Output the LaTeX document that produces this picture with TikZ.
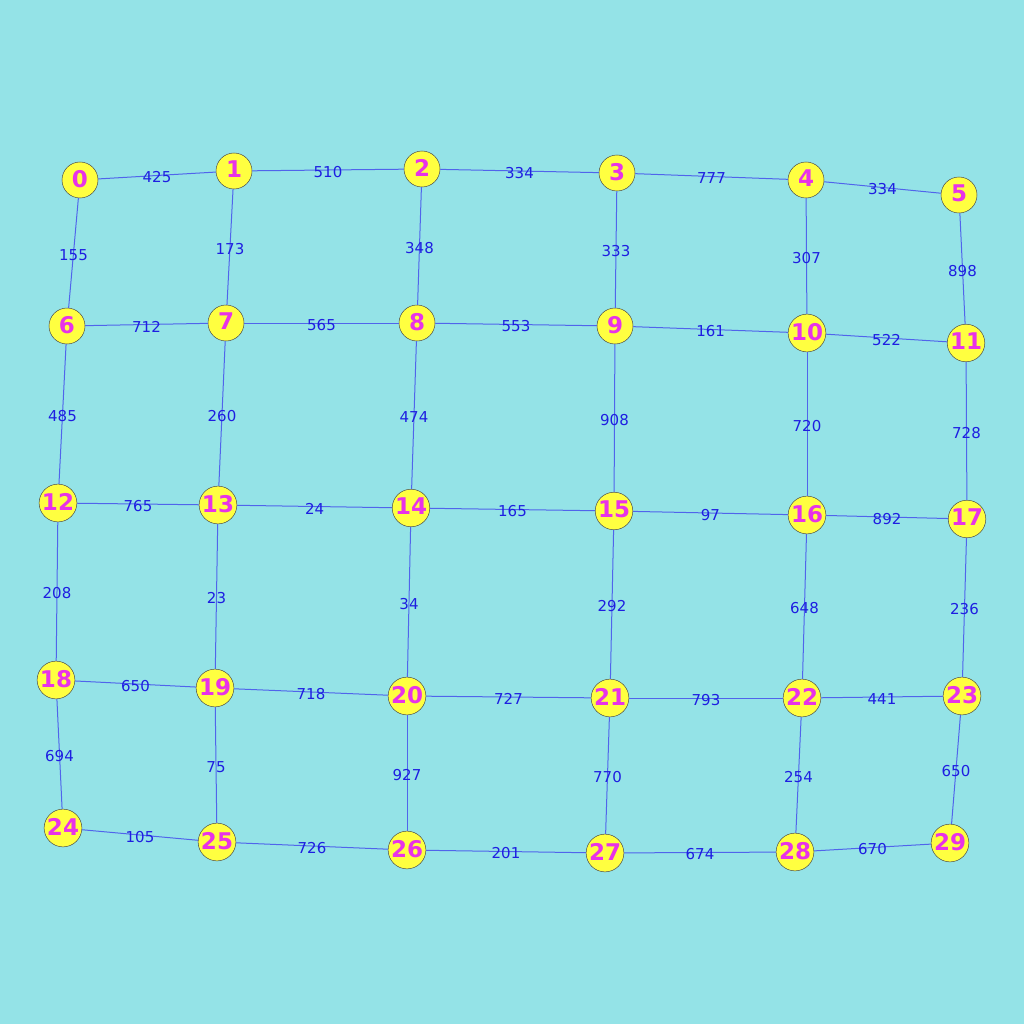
\documentclass[tikz,border=0pt]{standalone}
\usepackage{fontspec}
\setmainfont{DejaVu Sans}
\usepackage{xcolor}
\definecolor{bgcyan}{RGB}{148, 227, 231}
\definecolor{nodeyellow}{RGB}{255, 255, 64}
\definecolor{numpink}{RGB}{232, 50, 232}
\definecolor{edgeblue}{RGB}{80, 100, 235}
\definecolor{wblue}{RGB}{30, 30, 225}

\tikzset{
    vertex/.style={circle, draw=black!70, line width=0.5pt, fill=nodeyellow,
        minimum size=36pt, inner sep=0pt, text=numpink,
        font=\fontsize{23}{23}\selectfont\bfseries},
    link/.style={edgeblue, line width=1pt},
    weight/.style={text=wblue, font=\fontsize{15}{15}\selectfont, inner sep=1pt, yshift=-2pt}
}

\begin{document}
\begin{tikzpicture}[x=1pt, y=-1pt]
    % background
    \fill[bgcyan] (0,0) rectangle (1024,1024);
    \useasboundingbox (0,0) rectangle (1024,1024);

    % vertices
    \foreach \i/\x/\y in {0/80/180, 1/234/171, 2/422/169, 3/617/173, 4/806/180, 5/959/195,
        6/67/326, 7/226/323, 8/417/323, 9/615/326, 10/807/333, 11/966/343,
        12/58/503, 13/218/505, 14/411/508, 15/614/511, 16/807/515, 17/967/519,
        18/56/680, 19/215/688, 20/407/696, 21/610/698, 22/802/698, 23/962/696,
        24/63/828, 25/217/842, 26/407/850, 27/605/853, 28/795/852, 29/950/843}
        \node[vertex] (n\i) at (\x,\y) {\raisebox{3pt}{\i}};

    % weighted edges
    \foreach \a/\b/\w in {0/1/425, 1/2/510, 2/3/334, 3/4/777, 4/5/334,
        0/6/155, 1/7/173, 2/8/348, 3/9/333, 4/10/307, 5/11/898,
        6/7/712, 7/8/565, 8/9/553, 9/10/161, 10/11/522,
        6/12/485, 7/13/260, 8/14/474, 9/15/908, 10/16/720, 11/17/728,
        12/13/765, 13/14/24, 14/15/165, 15/16/97, 16/17/892,
        12/18/208, 13/19/23, 14/20/34, 15/21/292, 16/22/648, 17/23/236,
        18/19/650, 19/20/718, 20/21/727, 21/22/793, 22/23/441,
        18/24/694, 19/25/75, 20/26/927, 21/27/770, 22/28/254, 23/29/650,
        24/25/105, 25/26/726, 26/27/201, 27/28/674, 28/29/670}
        \draw[link] (n\a) -- node[weight] {\w} (n\b);
\end{tikzpicture}
\end{document}
